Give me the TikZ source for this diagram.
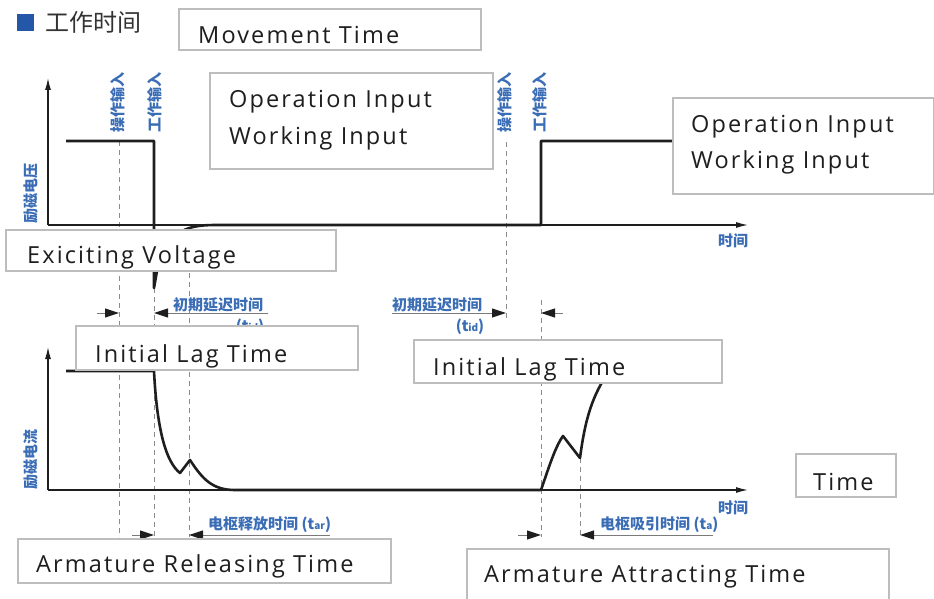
\documentclass[tikz,border=0pt]{standalone}
\usepackage{fontspec}
\setmainfont{Open Sans}
\newfontfamily\boxfont[LetterSpace=9]{Open Sans}
\newfontfamily\cjk{Noto Sans CJK SC}
\usetikzlibrary{arrows.meta}
\definecolor{lblblue}{HTML}{3A6DB5}
\definecolor{boxgray}{HTML}{BDBDBD}
\definecolor{sqblue}{HTML}{2457A8}
\definecolor{ink}{HTML}{1E1E1E}
\definecolor{dashgray}{HTML}{8C8C8C}
\definecolor{dimgray}{HTML}{7A7A7A}
\begin{document}
\begin{tikzpicture}[x=1pt,y=-1pt,
  box/.style={draw=boxgray, line width=1.6pt, fill=white, inner sep=0pt, anchor=north west},
  boxtext/.style={anchor=base west, inner sep=0pt, text=ink, font=\boxfont\fontsize{23.5}{23.5}\selectfont},
  cn/.style={text=lblblue, inner sep=0pt, font=\cjk\bfseries\fontsize{15}{15}\selectfont},
  axis/.style={draw=ink, line width=1.3pt, -{Latex[length=12pt,width=6pt]}},
  sig/.style={draw=ink, line width=2.6pt, line join=round},
  guide/.style={draw=dashgray, line width=1pt, dash pattern=on 5pt off 4pt},
  dimline/.style={draw=dimgray, line width=1pt, -{Triangle[length=14pt,width=9pt,color=ink,fill=ink]}},
]
\useasboundingbox (0,0) rectangle (934,599);

% title
\node[fill=sqblue, minimum size=17pt, inner sep=0pt, anchor=north west] (sq) at (17,14) {};
\node[anchor=west, inner sep=0pt, text=black!80, font=\cjk\fontsize{24}{24}\selectfont] (title) at (45,22) {工作时间};

% guides
\draw[guide] (119,141) -- (119,537);
\draw[guide] (154,288) -- (154,537);
\draw[guide] (189,273) -- (189,537);
\draw[guide] (506,142) -- (506,322);
\draw[guide] (541,300) -- (541,537);
\draw[guide] (580,458) -- (580,537);

% axes
\coordinate (o1) at (48,225);
\coordinate (y1) at (48,78);
\coordinate (x1) at (748,225);
\coordinate (o2) at (48,490);
\coordinate (y2) at (48,347);
\coordinate (x2) at (748,490);
\draw[axis] (o1) -- (y1);
\draw[axis] (o1) -- (x1);
\draw[axis] (o2) -- (y2);
\draw[axis] (o2) -- (x2);

% signals
\draw[sig] (66,141) -- (154,141) -- (154,288) -- (157,271) .. controls (166,232) and (185,225) .. (215,225) -- (541,225) -- (541,141) -- (700,141);
\draw[sig] (66,371) -- (154,371) .. controls (157,430) and (166,462) .. (180,473) -- (190,460) .. controls (203,480) and (213,490) .. (235,490) -- (541,490) .. controls (548,470) and (555,447) .. (563,436) -- (580,458) .. controls (585,420) and (592,395) .. (610,370);

% dimension lines
\draw[dimline] (97,313) -- (119,313);
\draw[dimline] (268,313) -- (154,313);
\draw[dimline] (392,313) -- (506,313);
\draw[dimline] (563,313) -- (541,313);
\draw[dimline] (132,535) -- (154,535);
\draw[dimline] (330,535) -- (189,535);
\draw[dimline] (518,535) -- (541,535);
\draw[dimline] (713,535) -- (580,535);

% blue labels
\node[cn, rotate=90] (v1) at (31,193) {励磁电压};
\node[cn, rotate=90] (c1) at (31,459) {励磁电流};
\node[cn, rotate=90] (op1) at (118,102) {操作输入};
\node[cn, rotate=90] (wk1) at (155,102) {工作输入};
\node[cn, rotate=90] (op2) at (505,102) {操作输入};
\node[cn, rotate=90] (wk2) at (540,102) {工作输入};
\node[cn] (t1) at (733,241) {时间};
\node[cn] (t2) at (733,508) {时间};
\node[cn, anchor=base west] (lagL) at (173,310) {初期延迟时间};
\node[cn] (tidL) at (250,327) {(t{\fontsize{10}{10}\selectfont id})};
\node[cn, anchor=base west] (lagR) at (392,310) {初期延迟时间};
\node[cn] (tidR) at (470,327) {(t{\fontsize{10}{10}\selectfont id})};
\node[cn, anchor=base west] (tar) at (208,529) {电枢释放时间 (t{\fontsize{10}{10}\selectfont ar})};
\node[cn, anchor=base west] (ta) at (600,529) {电枢吸引时间 (t{\fontsize{10}{10}\selectfont a})};

% boxes
\node[box, minimum width=302pt, minimum height=41pt] (bMove) at (178,8) {};
\node[boxtext] (tMove) at (198,44) {Movement Time};
\node[box, minimum width=283pt, minimum height=96pt] (bOp1) at (209,72) {};
\node[boxtext] (tOp1a) at (229,108) {Operation Input};
\node[boxtext] (tOp1b) at (229,144) {Working Input};
\node[box, minimum width=261pt, minimum height=96pt] (bOp2) at (672,97) {};
\node[boxtext] (tOp2a) at (691,132) {Operation Input};
\node[boxtext] (tOp2b) at (691,168) {Working Input};
\node[box, minimum width=330pt, minimum height=41pt] (bExc) at (5,229) {};
\node[boxtext] (tExc) at (27,263) {Exiciting Voltage};
\node[box, minimum width=282pt, minimum height=44pt] (bLagL) at (75,325) {};
\node[boxtext] (tLagL) at (95,362) {Initial Lag Time};
\node[box, minimum width=308pt, minimum height=43pt] (bLagR) at (413,339) {};
\node[boxtext] (tLagR) at (433,375) {Initial Lag Time};
\node[box, minimum width=100pt, minimum height=43pt] (bTime) at (795,453) {};
\node[boxtext] (tTime) at (813,490) {Time};
\node[box, minimum width=373pt, minimum height=44pt] (bARel) at (17,538) {};
\node[boxtext] (tARel) at (36,572) {Armature Releasing Time};
\node[box, minimum width=422pt, minimum height=56pt] (bAAtt) at (466,548) {};
\node[boxtext] (tAAtt) at (484,582) {Armature Attracting Time};
\end{tikzpicture}
\end{document}
